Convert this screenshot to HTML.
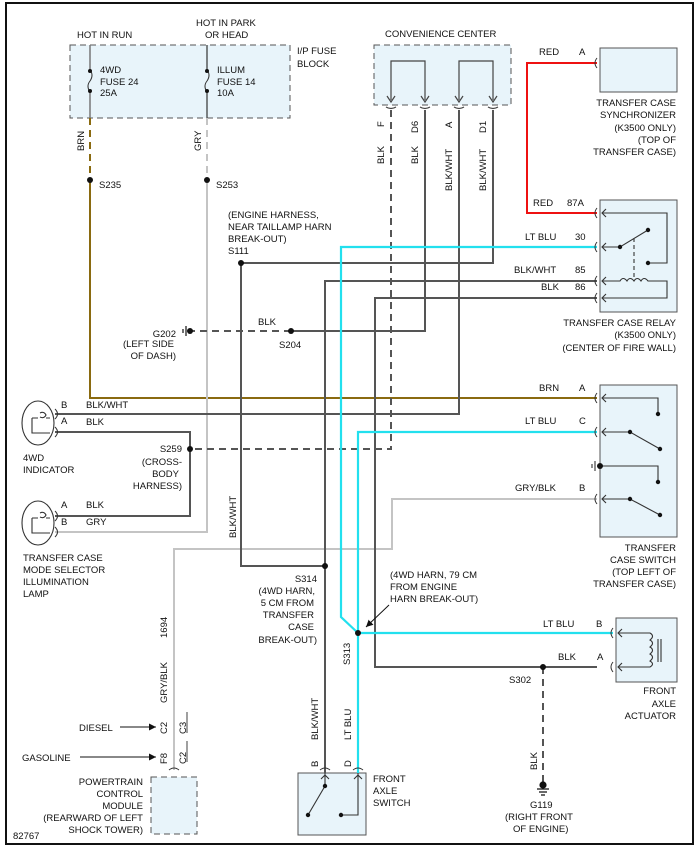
<!DOCTYPE html>
<html><head><meta charset="utf-8"><style>
html,body{margin:0;padding:0;background:#fff}
svg{display:block}
text{font-family:"Liberation Sans",Arial,sans-serif;font-size:9.5px;fill:#111}
</style></head><body>
<svg width="697" height="847" viewBox="0 0 697 847" xmlns="http://www.w3.org/2000/svg">
<defs>
<marker id="ar" markerWidth="8" markerHeight="8" refX="7" refY="4" orient="auto" markerUnits="userSpaceOnUse"><path d="M0,0.5 L7,4 L0,7.5 z" fill="#111"/></marker>
</defs>
<rect x="6" y="3" width="687" height="841" fill="none" stroke="#111" stroke-width="2"/>

<rect x="70" y="45" width="220" height="73" fill="#e8f4fa" stroke="#555" stroke-dasharray="6,4"/>
<rect x="374" y="45" width="137" height="60" fill="#e8f4fa" stroke="#555" stroke-dasharray="6,4"/>
<rect x="600" y="48" width="77" height="44" fill="#e8f4fa" stroke="#555"/>
<rect x="600" y="200" width="77" height="112" fill="#e8f4fa" stroke="#555"/>
<rect x="600" y="385" width="77" height="152" fill="#e8f4fa" stroke="#555"/>
<rect x="616" y="618" width="61" height="64" fill="#e8f4fa" stroke="#555"/>
<rect x="298" y="773" width="68" height="62" fill="#e8f4fa" stroke="#555"/>
<rect x="151" y="777" width="46" height="57" fill="#e8f4fa" stroke="#555" stroke-dasharray="6,4"/>

<g stroke="#777" stroke-width="1.5" fill="none">
<path d="M90 45 V70 M90 92 V118"/>
<path d="M90 70 q4 5 0 11 q-4 5 0 11" stroke="#333" stroke-width="1"/>
</g>
<g stroke="#333" stroke-width="1.2" fill="none">
<path d="M207 45 V70 M207 92 V118"/>
<path d="M207 70 q4 5 0 11 q-4 5 0 11" stroke-width="1"/>
</g>
<g fill="#111"><circle cx="90" cy="71" r="2"/><circle cx="90" cy="91" r="2"/><circle cx="207" cy="71" r="2"/><circle cx="207" cy="91" r="2"/></g>

<g stroke="#444" stroke-width="1.2" fill="none">
<path d="M391 100 V61 H425 V100 M459 100 V61 H493 V100"/>
<path d="M387 96 L391 102 L395 96 M421 96 L425 102 L429 96 M455 96 L459 102 L463 96 M489 96 L493 102 L497 96"/>
<path d="M386 107 Q391 110 396 107 M420 107 Q425 110 430 107 M454 107 Q459 110 464 107 M488 107 Q493 110 498 107"/>
</g>

<path d="M90 118 V180" stroke="#8a6a10" stroke-width="2" stroke-dasharray="7,5" fill="none"/>
<path d="M90 180 V398 H597" stroke="#8a6a10" stroke-width="2" fill="none"/>
<path d="M207 118 V180" stroke="#c4c4c4" stroke-width="2" stroke-dasharray="7,5" fill="none"/>
<path d="M207 180 V532 H55" stroke="#c4c4c4" stroke-width="2" fill="none"/>
<path d="M597 499 H392 V549 H174 V770" stroke="#c4c4c4" stroke-width="2" fill="none"/>

<g stroke="#555" stroke-width="2" fill="none">
<path d="M425 110 V331 H291"/>
<path d="M459 110 V414 H55"/>
<path d="M493 110 V263 H241 V566 H325"/>
<path d="M597 281 H325 V773"/>
<path d="M597 298 H375 V667 H597"/>
<path d="M55 432 H190 V516 H55"/>
</g>
<g stroke="#555" stroke-width="2" fill="none" stroke-dasharray="7,5">
<path d="M391 110 V449 H190"/>
<path d="M291 331 H190"/>
<path d="M543 667 V785"/>
</g>

<path d="M597 63 H527 V213 H597" stroke="#ee1111" stroke-width="2" fill="none"/>
<g stroke="#22e0ee" stroke-width="2.2" fill="none">
<path d="M597 247 H341 V617 L358 633"/>
<path d="M597 432 H358 V773"/>
<path d="M358 633 H613"/>
</g>

<g fill="#111">
<circle cx="90" cy="180" r="3"/><circle cx="207" cy="180" r="3"/><circle cx="241" cy="263" r="3"/>
<circle cx="291" cy="331" r="3"/><circle cx="190" cy="331" r="3"/><circle cx="190" cy="449" r="3"/>
<circle cx="325" cy="566" r="3"/><circle cx="358" cy="633" r="3"/><circle cx="543" cy="667" r="3"/>
</g>
<g stroke="#111" stroke-width="1.2"><path d="M186 326 V336 M183 329 V333"/></g>
<g stroke="#111" stroke-width="1.2"><circle cx="543" cy="785" r="3" fill="#111"/><path d="M537 789 H549 M539 792 H547 M541 795 H545"/></g>

<g stroke="#333" stroke-width="1" fill="none">
<path d="M597 58 q-4 5 0 10 M597 208 q-4 5 0 10 M597 242 q-4 5 0 10 M597 276 q-4 5 0 10 M597 293 q-4 5 0 10 M597 393 q-4 5 0 10 M597 427 q-4 5 0 10 M597 494 q-4 5 0 10 M613 628 q-4 5 0 10 M613 662 q-4 5 0 10"/>
<path d="M320 770 q5 -4 10 0 M353 770 q5 -4 10 0 M169 770 q5 -4 10 0"/>
<path d="M55 409 q5 5 0 10 M55 427 q5 5 0 10 M55 511 q5 5 0 10 M55 527 q5 5 0 10"/>
</g>

<g stroke="#333" stroke-width="1.1" fill="none">
<path d="M602 213 H667 V263 H648"/>
<path d="M602 247 H620 L648 230"/>
<path d="M634 238 V280" stroke-dasharray="4,3"/>
<path d="M602 281 H620 q3 -5 7 0 q3 -5 7 0 q3 -5 7 0 q3 -5 7 0 H667 V298 H602"/>
<path d="M606 209 L602 213 L606 217 M606 243 L602 247 L606 251 M606 277 L602 281 L606 285 M606 294 L602 298 L606 302"/>
</g>
<g fill="#111"><circle cx="620" cy="247" r="2.2"/><circle cx="648" cy="230" r="2.2"/><circle cx="648" cy="263" r="2.2"/></g>

<g stroke="#333" stroke-width="1.1" fill="none">
<path d="M602 398 H658 V414"/>
<path d="M602 432 H630 L660 449"/>
<path d="M600 466 H658 V482"/>
<path d="M602 499 H630 L660 515"/>
<path d="M606 394 L602 398 L606 402 M606 428 L602 432 L606 436 M606 495 L602 499 L606 503"/>
<path d="M595 461 V471 M592 464 V468"/>
</g>
<g fill="#111"><circle cx="658" cy="414" r="2.2"/><circle cx="630" cy="432" r="2.2"/><circle cx="660" cy="449" r="2.2"/><circle cx="600" cy="466" r="3"/><circle cx="658" cy="482" r="2.2"/><circle cx="630" cy="499" r="2.2"/><circle cx="660" cy="515" r="2.2"/></g>

<g stroke="#333" stroke-width="1.1" fill="none">
<path d="M618 633 H650 q5 3 0 7 q5 3 0 7 q5 3 0 7 q5 3 0 7 q5 3 0 6 V667 H618"/>
<path d="M658 639 V662 M661 639 V662"/>
<path d="M622 629 L618 633 L622 637 M622 663 L618 667 L622 671"/>
</g>

<g stroke="#333" stroke-width="1.1" fill="none">
<path d="M325 773 V786 L308 815"/>
<path d="M358 773 V815 H341"/>
<path d="M321 779 L325 775 L329 779 M354 779 L358 775 L362 779"/>
</g>
<g fill="#111"><circle cx="325" cy="786" r="2.2"/><circle cx="308" cy="815" r="2.2"/><circle cx="341" cy="815" r="2.2"/></g>

<g stroke="#333" stroke-width="1.1" fill="none">
<ellipse cx="38" cy="423" rx="16" ry="22"/>
<path d="M32 418 V433 H50 M32 418 H38 M40 413 q4 -2 6 2 q-2 4 -6 2 M46 418 H50"/>
<ellipse cx="38" cy="523" rx="16" ry="22"/>
<path d="M32 518 V533 H50 M32 518 H38 M40 513 q4 -2 6 2 q-2 4 -6 2 M46 518 H50"/>
</g>

<path d="M120 727 H156" stroke="#111" stroke-width="1" marker-end="url(#ar)"/>
<path d="M80 757 H156" stroke="#111" stroke-width="1" marker-end="url(#ar)"/>
<path d="M389 605 L366 627" stroke="#111" stroke-width="1" marker-end="url(#ar)"/>
<path d="M187 712 V733 M187 741 V762" stroke="#111" stroke-width="0.8"/>

<text x="77" y="38">HOT IN RUN</text>
<text x="196" y="26">HOT IN PARK</text>
<text x="205" y="38">OR HEAD</text>
<text x="297" y="54">I/P FUSE</text>
<text x="297" y="67">BLOCK</text>
<text x="100" y="73">4WD</text><text x="100" y="85">FUSE 24</text><text x="100" y="96">25A</text>
<text x="217" y="73">ILLUM</text><text x="217" y="85">FUSE 14</text><text x="217" y="96">10A</text>
<text transform="translate(84,151) rotate(-90)">BRN</text>
<text transform="translate(201,151) rotate(-90)">GRY</text>
<text x="99" y="188">S235</text><text x="216" y="188">S253</text>
<text x="228" y="218">(ENGINE HARNESS,</text>
<text x="228" y="230">NEAR TAILLAMP HARN</text>
<text x="228" y="242">BREAK-OUT)</text>
<text x="228" y="254">S111</text>
<text x="385" y="37">CONVENIENCE CENTER</text>
<text transform="translate(384,127) rotate(-90)">F</text>
<text transform="translate(418,133) rotate(-90)">D6</text>
<text transform="translate(452,128) rotate(-90)">A</text>
<text transform="translate(486,133) rotate(-90)">D1</text>
<text transform="translate(384,164) rotate(-90)">BLK</text>
<text transform="translate(418,164) rotate(-90)">BLK</text>
<text transform="translate(452,191) rotate(-90)">BLK/WHT</text>
<text transform="translate(486,191) rotate(-90)">BLK/WHT</text>
<text x="539" y="55">RED</text><text x="579" y="55">A</text>
<g text-anchor="end">
<text x="676" y="106">TRANSFER CASE</text>
<text x="676" y="118">SYNCHRONIZER</text>
<text x="676" y="131">(K3500 ONLY)</text>
<text x="676" y="143">(TOP OF</text>
<text x="676" y="155">TRANSFER CASE)</text>
<text x="676" y="326">TRANSFER CASE RELAY</text>
<text x="676" y="338">(K3500 ONLY)</text>
<text x="676" y="351">(CENTER OF FIRE WALL)</text>
<text x="676" y="551">TRANSFER</text>
<text x="676" y="563">CASE SWITCH</text>
<text x="676" y="575">(TOP LEFT OF</text>
<text x="676" y="587">TRANSFER CASE)</text>
<text x="676" y="694">FRONT</text>
<text x="676" y="707">AXLE</text>
<text x="676" y="719">ACTUATOR</text>
<text x="176" y="337">G202</text>
<text x="174" y="347">(LEFT SIDE</text>
<text x="176" y="359">OF DASH)</text>
<text x="182" y="452">S259</text>
<text x="182" y="465">(CROSS-</text>
<text x="179" y="477">BODY</text>
<text x="182" y="489">HARNESS)</text>
<text x="317" y="582">S314</text>
<text x="315" y="594">(4WD HARN,</text>
<text x="314" y="606">5 CM FROM</text>
<text x="314" y="618">TRANSFER</text>
<text x="314" y="630">CASE</text>
<text x="317" y="643">BREAK-OUT)</text>
<text x="143" y="785">POWERTRAIN</text>
<text x="143" y="797">CONTROL</text>
<text x="143" y="809">MODULE</text>
<text x="143" y="821">(REARWARD OF LEFT</text>
<text x="143" y="833">SHOCK TOWER)</text>
</g>
<text x="533" y="206">RED</text><text x="567" y="206">87A</text>
<text x="525" y="240">LT BLU</text><text x="575" y="240">30</text>
<text x="514" y="273">BLK/WHT</text><text x="575" y="273">85</text>
<text x="541" y="290">BLK</text><text x="575" y="290">86</text>
<text x="258" y="325">BLK</text>
<text x="279" y="348">S204</text>
<text x="61" y="408">B</text><text x="86" y="408">BLK/WHT</text>
<text x="61" y="424">A</text><text x="86" y="425">BLK</text>
<text x="23" y="461">4WD</text><text x="23" y="473">INDICATOR</text>
<text x="61" y="508">A</text><text x="86" y="508">BLK</text>
<text x="61" y="525">B</text><text x="86" y="525">GRY</text>
<text x="23" y="561">TRANSFER CASE</text>
<text x="23" y="573">MODE SELECTOR</text>
<text x="23" y="585">ILLUMINATION</text>
<text x="23" y="597">LAMP</text>
<text transform="translate(236,538) rotate(-90)">BLK/WHT</text>
<text x="539" y="391">BRN</text><text x="579" y="391">A</text>
<text x="525" y="424">LT BLU</text><text x="579" y="424">C</text>
<text x="515" y="491">GRY/BLK</text><text x="579" y="491">B</text>
<text x="390" y="578">(4WD HARN, 79 CM</text>
<text x="390" y="590">FROM ENGINE</text>
<text x="390" y="602">HARN BREAK-OUT)</text>
<text x="543" y="627">LT BLU</text><text x="596" y="627">B</text>
<text x="558" y="660">BLK</text><text x="597" y="660">A</text>
<text x="509" y="683">S302</text>
<text transform="translate(350,665) rotate(-90)">S313</text>
<text transform="translate(318,740) rotate(-90)">BLK/WHT</text>
<text transform="translate(351,740) rotate(-90)">LT BLU</text>
<text transform="translate(318,767) rotate(-90)">B</text>
<text transform="translate(351,767) rotate(-90)">D</text>
<text x="373" y="782">FRONT</text><text x="373" y="794">AXLE</text><text x="373" y="806">SWITCH</text>
<text transform="translate(537,770) rotate(-90)">BLK</text>
<text x="530" y="808">G119</text>
<text x="505" y="820">(RIGHT FRONT</text>
<text x="513" y="832">OF ENGINE)</text>
<text transform="translate(167,638) rotate(-90)">1694</text>
<text transform="translate(167,703) rotate(-90)">GRY/BLK</text>
<text x="79" y="731">DIESEL</text>
<text x="22" y="761">GASOLINE</text>
<text transform="translate(167,734) rotate(-90)">C2</text>
<text transform="translate(186,734) rotate(-90)">C3</text>
<text transform="translate(167,764) rotate(-90)">F8</text>
<text transform="translate(186,764) rotate(-90)">C2</text>
<text x="13" y="839">82767</text>
</svg>
</body></html>
